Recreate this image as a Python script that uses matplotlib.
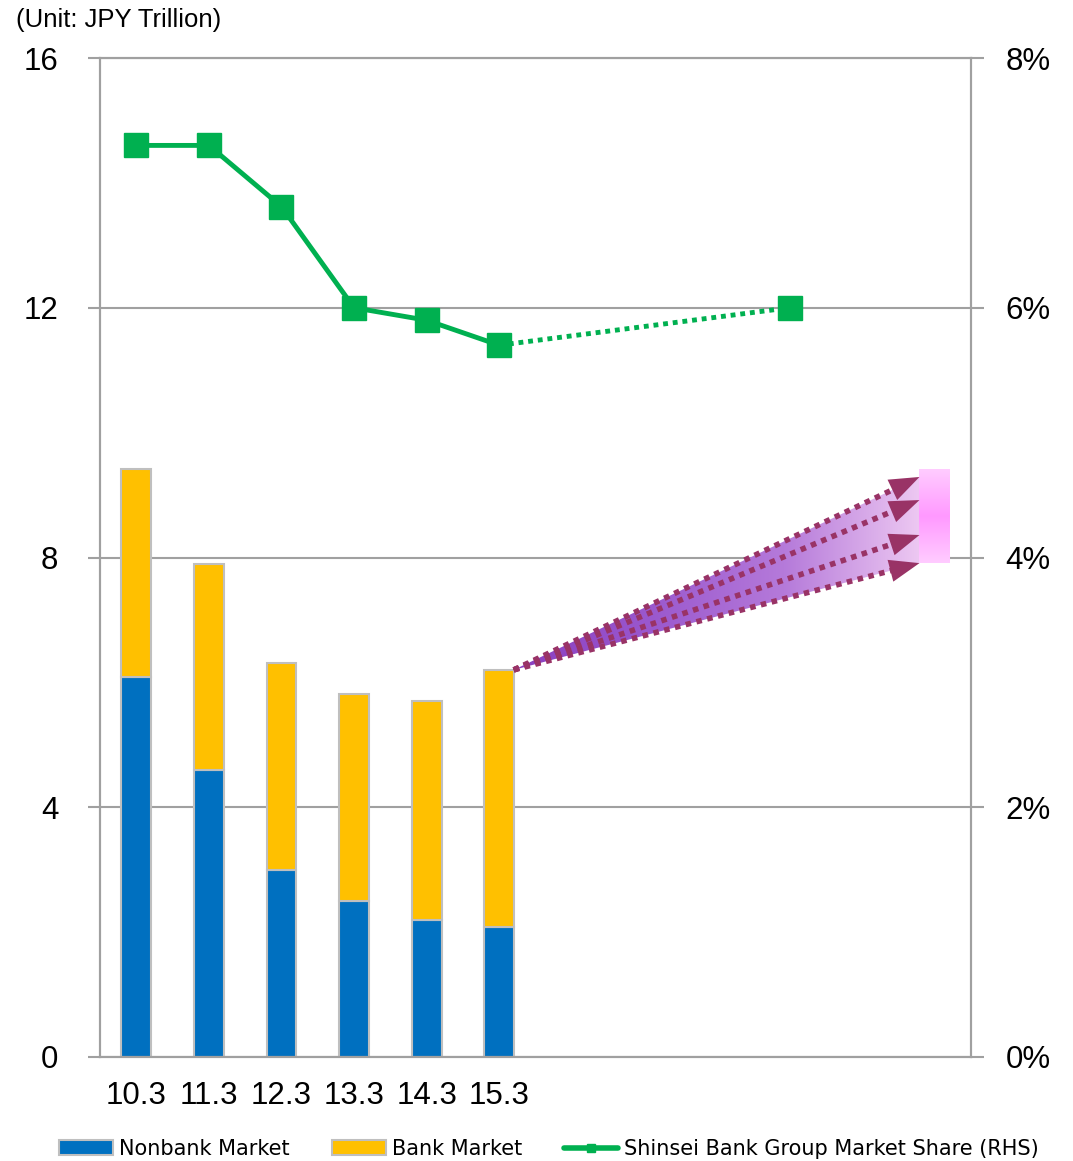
import numpy as np
import matplotlib.pyplot as plt
from matplotlib.colors import LinearSegmentedColormap
from matplotlib.patches import Polygon, Patch
from matplotlib.lines import Line2D

plt.rcParams['font.family'] = ['Liberation Sans', 'DejaVu Sans']

# data (JPY trillion / %)
periods = ["10.3", "11.3", "12.3", "13.3", "14.3", "15.3"]
nonbank = [6.09, 4.60, 3.00, 2.50, 2.19, 2.08]
bank = [3.33, 3.30, 3.31, 3.31, 3.51, 4.12]
share = [7.30, 7.30, 6.81, 6.00, 5.90, 5.70]
share_target = 6.00
target_pos = 9
arrow_ends = [9.29, 8.92, 8.36, 7.91]
n_slots = 12

BLUE = "#0070C0"
YELLOW = "#FFC000"
GREEN = "#00B050"
GRAY = "#A0A0A0"
ARROW = "#993366"

fig = plt.figure(figsize=(10.73, 11.61), dpi=100)
ax = fig.add_axes([100/1073, 1-1057/1161, 871/1073, 999/1161])
ax2 = ax.twinx()

x = np.arange(len(periods))
w = 0.41
ax.bar(x, nonbank, w, color=BLUE, edgecolor="#BFBFBF", linewidth=1.5, zorder=2)
ax.bar(x, bank, w, bottom=nonbank, color=YELLOW, edgecolor="#BFBFBF", linewidth=1.5, zorder=2)

ax.set_xlim(-0.5, n_slots - 0.5)
ax.set_ylim(0, 16)
ax.set_yticks([0, 4, 8, 12, 16])
ax.set_xticks(x)
ax.set_xticklabels(periods)
ax.tick_params(axis="x", length=0, pad=17, labelsize=22.5)
ax.tick_params(axis="y", length=9, color=GRAY, width=1.5, pad=21, labelsize=22.5)
ax.grid(axis="y", color=GRAY, linewidth=1.5)
ax.set_axisbelow(True)
for s in ax.spines.values():
    s.set_color(GRAY)
    s.set_linewidth(1.5)

ax2.set_ylim(0, 8)
ax2.set_yticks([0, 2, 4, 6, 8])
ax2.set_yticklabels(["0%", "2%", "4%", "6%", "8%"])
ax2.tick_params(axis="y", length=9, color=GRAY, width=1.5, pad=16, labelsize=22.5)
for s in ax2.spines.values():
    s.set_color(GRAY)
    s.set_linewidth(1.5)

# share line
ax2.plot(x, share, color=GREEN, lw=3.5, marker="s", ms=17, zorder=5)
ax2.plot([x[-1], target_pos], [share[-1], share_target], color=GREEN, lw=3.5, ls=(0, (1, 1)), zorder=4)
ax2.plot([target_pos], [share_target], color=GREEN, marker="s", ms=17, ls="none", zorder=5)

# forecast fan
x0, y0 = x[-1] + 0.2, nonbank[-1] + bank[-1]
x1 = 10.79
poly = Polygon([[x0, y0], [x1, arrow_ends[0]], [x1, arrow_ends[-1]]], closed=True,
               facecolor="none", edgecolor="none")
ax.add_patch(poly)
cmap = LinearSegmentedColormap.from_list("fan", ["#8A3EC0", "#9A58CE", "#B57ADA", "#EDC8F2"])
grad = np.linspace(0, 1, 256).reshape(1, -1)
im = ax.imshow(grad, extent=(x0, x1, 6.0, 9.5), aspect="auto", cmap=cmap, zorder=1.5, origin="lower")
im.set_clip_path(poly)

pink = LinearSegmentedColormap.from_list("pink", ["#FFCCFF", "#FF99FF", "#FFCCFF"])
vg = np.linspace(0, 1, 256).reshape(-1, 1)
ax.imshow(vg, extent=(x1, 11.21, 7.91, 9.40), aspect="auto", cmap=pink, zorder=3, origin="lower")

for ye in arrow_ends:
    dx, dy = x1 - x0, ye - y0
    ax.plot([x0, x0 + dx*0.94], [y0, y0 + dy*0.94], color=ARROW, lw=4, ls=(0, (1, 1)), zorder=3)
    ax.annotate("", xy=(x1, ye), xytext=(x0 + dx*0.92, y0 + dy*0.92),
                arrowprops=dict(arrowstyle="-|>,head_length=1.2,head_width=0.45", color=ARROW,
                                lw=0, shrinkA=0, shrinkB=0, mutation_scale=18), zorder=4)

ax.set_xlim(-0.5, n_slots - 0.5)
ax.set_ylim(0, 16)

fig.text(16/1073, 1-20/1161, "(Unit: JPY Trillion)", fontsize=18.5, va="center")

handles = [
    Patch(facecolor=BLUE, edgecolor="#BFBFBF", linewidth=1.5),
    Patch(facecolor=YELLOW, edgecolor="#BFBFBF", linewidth=1.5),
    Line2D([], [], color=GREEN, lw=4, marker="s", ms=6, solid_capstyle="round"),
]
fig.legend(handles, ["Nonbank Market", "Bank Market", "Shinsei Bank Group Market Share (RHS)"],
           loc="center", bbox_to_anchor=(549/1073, 1-1149/1161), ncol=3, frameon=False,
           prop={"family": "DejaVu Sans", "size": 15},
           handlelength=2.6, handletextpad=0.3, columnspacing=2.0)

fig.savefig("out.png", dpi=100)
